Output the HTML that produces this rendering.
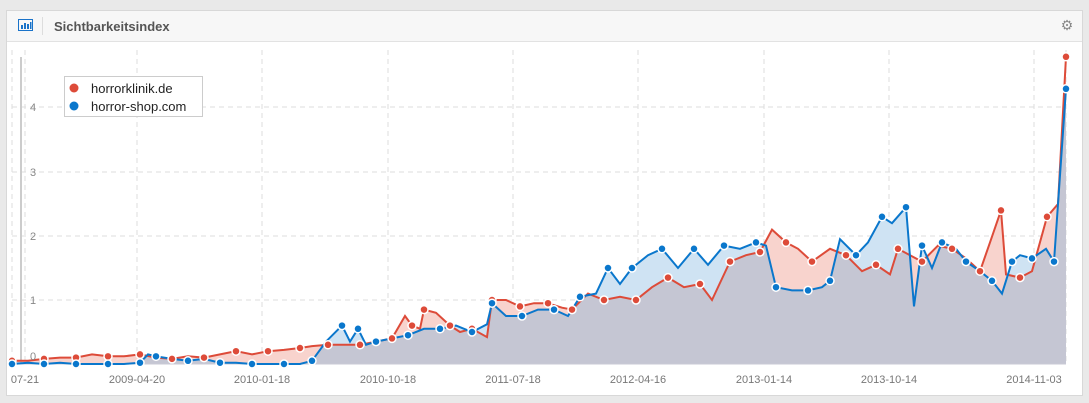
<!DOCTYPE html><html><head><meta charset="utf-8"><style>
body{margin:0;width:1089px;height:403px;background:#e9e9e9;font-family:"Liberation Sans",sans-serif;overflow:hidden}
.card{position:absolute;left:6px;top:10px;width:1077px;height:386px;background:#fff;border:1px solid #d8d8d8;box-sizing:border-box}
.hd{height:30px;background:#f7f7f7;border-bottom:1px solid #e2e2e2;position:relative}
.hd .t{position:absolute;left:47px;top:8px;font-size:13px;font-weight:bold;color:#555}
.sep{position:absolute;left:35px;top:6px;width:1px;height:18px;background:#ddd}
svg{position:absolute;left:0;top:0}
</style></head><body>
<div class="card"><div class="hd"><div class="sep"></div><div class="t">Sichtbarkeitsindex</div></div></div>
<svg width="1089" height="403" id="s" font-family="Liberation Sans, sans-serif"></svg>
<script>
const R=[[12,.05],[28,.05],[44,.08],[60,.1],[76,.1],[92,.15],[108,.12],[124,.12],[140,.15],[156,.1],[172,.08],[188,.12],[204,.1],[220,.15],[236,.2],[252,.15],[268,.2],[284,.22],[300,.25],[312,.28],[328,.3],[344,.3],[360,.3],[376,.35],[392,.4],[405,.75],[412,.6],[420,.55],[424,.85],[436,.8],[450,.6],[460,.5],[472,.55],[487,.42],[492,1.0],[506,1.0],[520,.9],[534,.95],[548,.95],[562,.88],[572,.85],[588,1.1],[604,1.0],[620,1.05],[636,1.0],[652,1.2],[668,1.35],[684,1.2],[700,1.25],[712,1.0],[730,1.6],[746,1.7],[760,1.75],[772,2.1],[786,1.9],[798,1.8],[812,1.6],[830,1.8],[846,1.7],[862,1.45],[876,1.55],[890,1.4],[898,1.8],[910,1.7],[922,1.6],[938,1.85],[952,1.8],[966,1.65],[980,1.45],[990,1.9],[1001,2.4],[1006,1.4],[1020,1.35],[1032,1.45],[1047,2.3],[1058,2.5],[1066,4.8]];
const B=[[12,.0],[28,.02],[44,.0],[60,.02],[76,.0],[92,.0],[108,.0],[124,.0],[140,.02],[148,.15],[156,.12],[172,.08],[188,.05],[204,.08],[220,.02],[236,.02],[252,.0],[268,.0],[284,.0],[300,.0],[312,.05],[326,.35],[342,.6],[350,.35],[358,.55],[366,.3],[376,.35],[392,.4],[408,.45],[424,.55],[440,.55],[456,.6],[472,.5],[487,.62],[492,.95],[506,.75],[522,.75],[538,.85],[554,.85],[568,.75],[580,1.05],[596,1.1],[608,1.5],[620,1.25],[632,1.5],[648,1.7],[662,1.8],[678,1.5],[694,1.8],[708,1.55],[724,1.85],[740,1.8],[756,1.9],[766,1.85],[776,1.2],[792,1.15],[808,1.15],[822,1.2],[830,1.3],[840,1.95],[856,1.7],[868,1.9],[882,2.3],[892,2.2],[906,2.45],[914,0.9],[922,1.85],[932,1.5],[942,1.9],[956,1.8],[966,1.6],[980,1.45],[992,1.3],[1002,1.1],[1012,1.6],[1020,1.7],[1032,1.65],[1046,1.8],[1054,1.6],[1066,4.3]];
const Y=v=>364-v*64;
let h='';
// grid
[[1,300],[2,236],[3,172],[4,107]].forEach(([v,y])=>{h+=`<line x1="12" x2="1066" y1="${y}" y2="${y}" stroke="#ddd" stroke-dasharray="5,4"/>`;});
const xs=[[25,'07-21'],[137,'2009-04-20'],[262,'2010-01-18'],[388,'2010-10-18'],[513,'2011-07-18'],[638,'2012-04-16'],[764,'2013-01-14'],[889,'2013-10-14'],[1034,'2014-11-03']];
xs.forEach(([x])=>{h+=`<line x1="${x}" x2="${x}" y1="50" y2="364" stroke="#ddd" stroke-dasharray="5,4"/>`});
h+=`<line x1="12" x2="12" y1="50" y2="364" stroke="#ddd" stroke-dasharray="5,4"/><line x1="1066" x2="1066" y1="50" y2="364" stroke="#ddd" stroke-dasharray="5,4"/>`;
const pts=a=>a.map(([x,v])=>x+','+Y(v).toFixed(1)).join(' ');
const area=a=>`12,364 ${pts(a)} 1066,364`;
// min series
const allx=[...new Set([...R,...B].map(p=>p[0]))].sort((a,b)=>a-b);
const interp=(a,x)=>{for(let i=0;i<a.length-1;i++){if(x>=a[i][0]&&x<=a[i+1][0]){const t=(x-a[i][0])/(a[i+1][0]-a[i][0]);return a[i][1]+t*(a[i+1][1]-a[i][1]);}}return a[a.length-1][1];};
const M=[];for(let x=12;x<=1066;x+=1)M.push([x,Math.min(interp(R,x),interp(B,x))]);
h+=`<polygon points="${area(R)}" fill="#f8d3cd"/><polygon points="${area(B)}" fill="#cfe3f3"/><polygon points="${area(M)}" fill="#c5c6d3"/>`;
h+=`<line x1="21" x2="21" y1="57" y2="364" stroke="#ccc" stroke-width="2"/><line x1="12" x2="1066" y1="364" y2="364" stroke="#c9c9d4"/>`;
h+=`<polyline points="${pts(R)}" fill="none" stroke="#dd4b39" stroke-width="2"/><polyline points="${pts(B)}" fill="none" stroke="#0a77cc" stroke-width="2"/>`;
R.forEach(([x,v],i)=>{if(i%2==0||i==R.length-1)h+=`<circle cx="${x}" cy="${Y(v)}" r="4" fill="#dd4b39" stroke="#fff" stroke-width="1.5"/>`});
B.forEach(([x,v],i)=>{if(i%2==0||i==B.length-1)h+=`<circle cx="${x}" cy="${Y(v)}" r="4" fill="#0a77cc" stroke="#fff" stroke-width="1.5"/>`});
[[0,360],[1,304],[2,240],[3,176],[4,111]].forEach(([v,y])=>{h+=`<text x="30" y="${y}" font-size="11" fill="#888">${v}</text>`});
xs.forEach(([x,t])=>{h+=`<text x="${x}" y="383" font-size="11" fill="#777" text-anchor="middle">${t}</text>`});
// legend
h+=`<rect x="64.5" y="76.5" width="138" height="40" fill="#fff" stroke="#ccc"/><circle cx="74" cy="88" r="4.5" fill="#dd4b39"/><circle cx="74" cy="106" r="4.5" fill="#0a77cc"/><text x="91" y="93" font-size="13" fill="#222">horrorklinik.de</text><text x="91" y="111" font-size="13" fill="#222">horror-shop.com</text>`;
// icons
h+=`<rect x="18.5" y="19.5" width="14" height="11" fill="none" stroke="#1a73c9"/><rect x="21" y="25" width="2" height="4" fill="#1a73c9"/><rect x="24" y="23" width="2" height="6" fill="#1a73c9"/><rect x="27" y="24" width="2" height="5" fill="#1a73c9"/><rect x="30" y="22" width="1.5" height="7" fill="#1a73c9"/>`;
h+=`<text x="1067" y="30" font-size="14" fill="#888" text-anchor="middle">⚙</text>`;
document.getElementById('s').innerHTML=h;
</script></body></html>
